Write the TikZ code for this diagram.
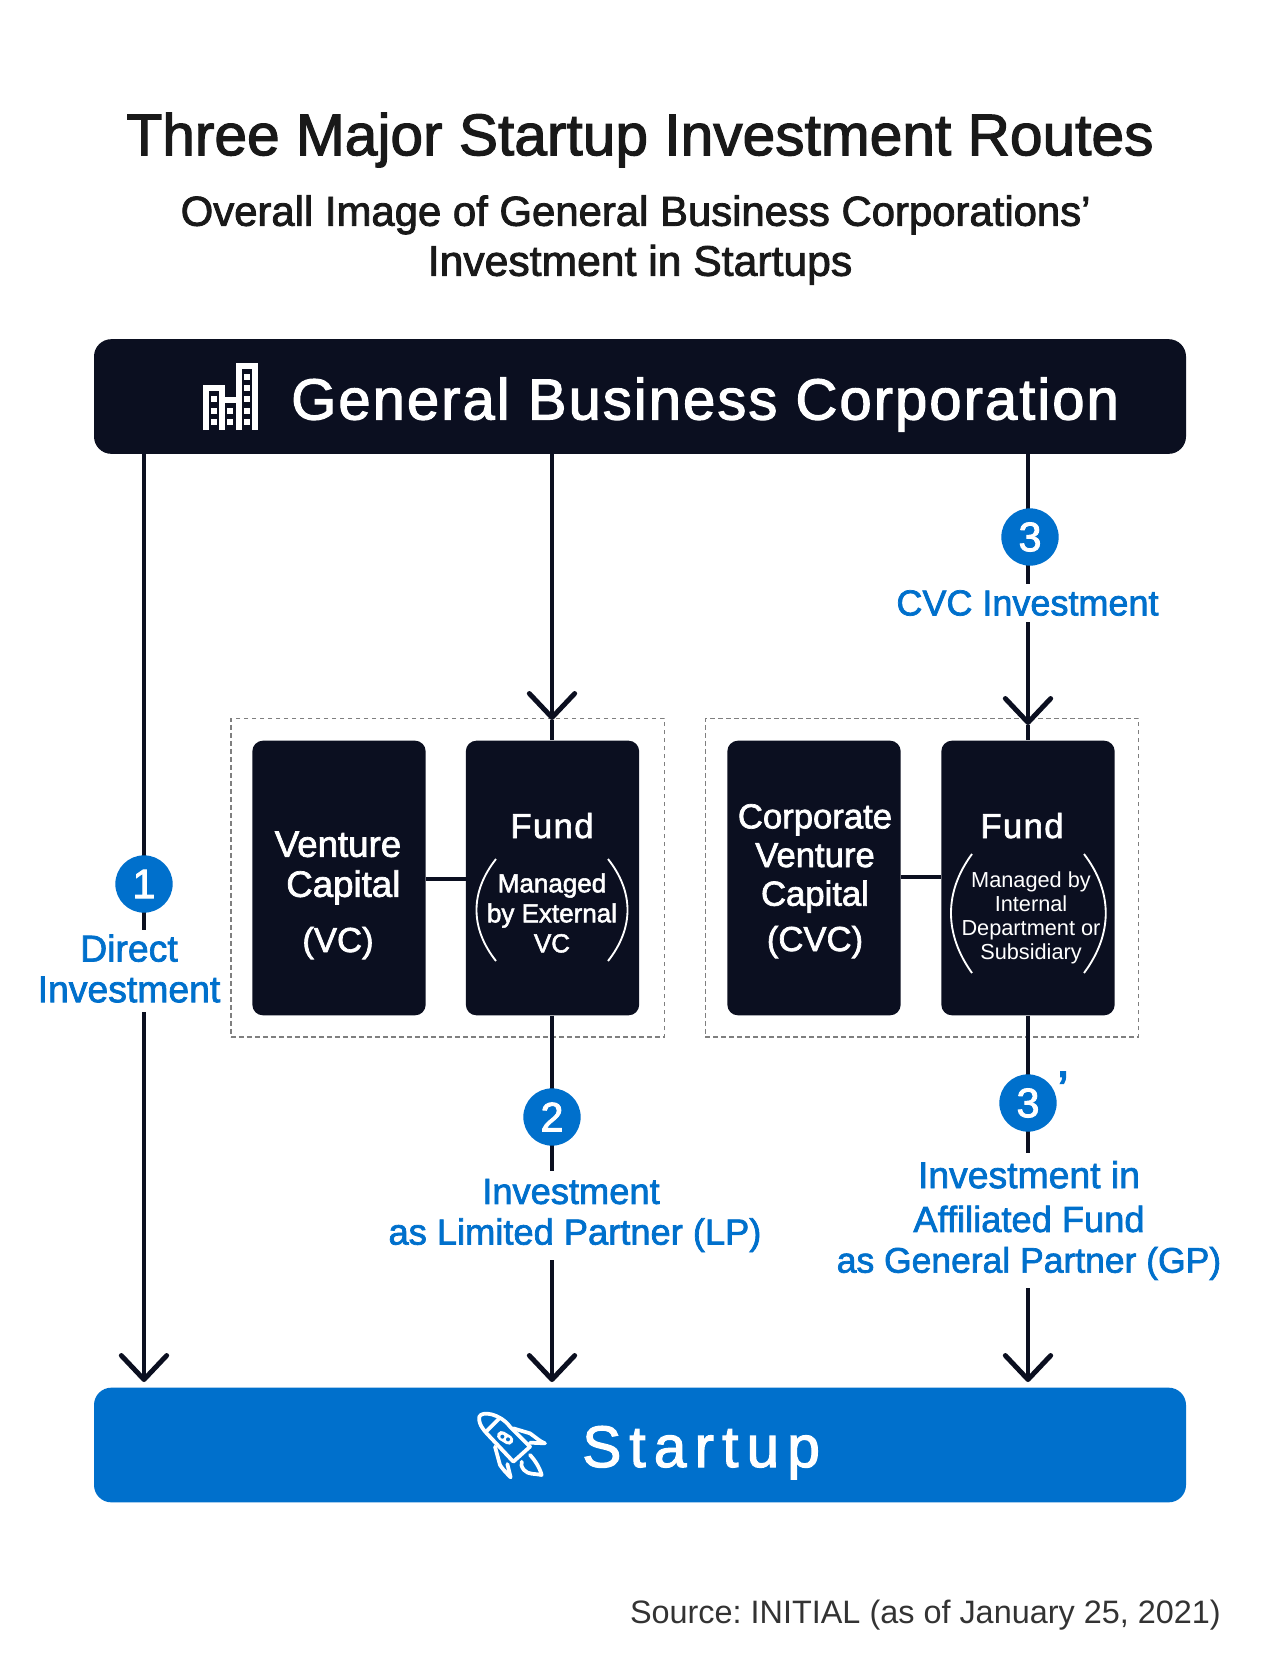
\documentclass[tikz,border=0pt]{standalone}
\usepackage{xcolor}
\usepackage{fontspec}
\usepackage{tikz}
\usetikzlibrary{arrows.meta,positioning}
\setmainfont{Liberation Sans}
\newfontfamily\medfont[FakeBold=2]{Liberation Sans}
\newfontfamily\barfont[FakeBold=2,LetterSpace=3.5]{Liberation Sans}
\newfontfamily\spacedfont[FakeBold=2,LetterSpace=13.8]{Liberation Sans}
\newfontfamily\fundfont[FakeBold=2,LetterSpace=4]{Liberation Sans}
\newcommand{\fsize}[2]{\fontsize{#1}{#2}\selectfont}
\definecolor{ink}{HTML}{0B0F20}
\definecolor{brand}{HTML}{0070CC}
\definecolor{dashgray}{HTML}{7F7F7F}

\begin{document}
\begin{tikzpicture}[
  x=0.75pt, y=-0.75pt,
  bar/.style={rounded corners=13pt, minimum width=819pt, minimum height=86pt, inner sep=0pt, text=white},
  fundbox/.style={fill=ink, rounded corners=8pt, minimum width=130pt, minimum height=206pt, inner sep=0pt},
  group/.style={draw=dashgray, line width=1pt, dash pattern=on 3.5pt off 2.5pt, minimum width=325pt, minimum height=239pt, inner sep=0pt},
  wire/.style={draw=ink, line width=3.7pt},
  arrow/.style={wire, -{Straight Barb[length=18pt,width=34pt,round]}},
  paren/.style={draw=white, line width=1.4pt},
  boxtext/.style={text=white, align=center, inner sep=0pt},
  tag/.style={text=brand, fill=white, align=center, inner xsep=0pt, font=\medfont\fsize{27.2}{30.5}},
  badge/.style={circle, fill=brand, text=white, minimum size=43pt, inner sep=0pt, font=\medfont\fsize{31}{31}},
  icon/.style={draw=white, line width=2.8pt, line cap=round, line join=round},
  tower/.style={draw=white, line width=4.2pt, line cap=butt, line join=miter}
]
  \useasboundingbox (0,0) rectangle (1280,1672);
  \fill[white] (0,0) rectangle (1280,1672);

  \node[text=black!90, font=\medfont\fsize{44}{48}] (title) at (640,140) {Three Major Startup Investment Routes};
  \node[text=black!90, font=\medfont\fsize{31.4}{37.5}, align=center] (subtitle) at (640,240) {\hspace*{-6.5pt}Overall Image of General Business Corporations’\\\fsize{32}{37.5}Investment in Startups};

  \node[bar, fill=ink] (corp) at (640,396.5) {};
  \node[bar, fill=brand] (startup) at (640,1445) {};
  \node[text=white, anchor=base west, inner sep=0pt, font=\barfont\fsize{43.5}{43.5}] (corptext) at (291,419.5) {General Business Corporation};
  \node[text=white, anchor=base west, inner sep=0pt, font=\spacedfont\fsize{44}{44}] (startuptext) at (582,1467) {Startup};

  \node[group] (vcgroup) at (447.5,877.5) {};
  \node[group] (cvcgroup) at (922,877.5) {};
  \node[fundbox] (vc) at (339,878) {};
  \node[fundbox] (vcfund) at (552.5,878) {};
  \node[fundbox] (cvc) at (814,878) {};
  \node[fundbox] (cvcfund) at (1028,878) {};

  \coordinate (tipone) at (144,1382);
  \coordinate (tiptwo) at (552,1382);
  \coordinate (tipthree) at (1028,1382);
  \coordinate (tipvc) at (552,720);
  \coordinate (tipcvc) at (1028,725);

  \draw[arrow] (tipone |- corp.south) -- (tipone);
  \draw[arrow] (tipvc |- corp.south) -- (tipvc);
  \draw[wire] (tipvc) -- (tipvc |- vcfund.north);
  \draw[arrow] (tipcvc |- corp.south) -- (tipcvc);
  \draw[wire] (tipcvc) -- (tipcvc |- cvcfund.north);
  \draw[arrow] (tiptwo |- vcfund.south) -- (tiptwo);
  \draw[arrow] (tipthree |- cvcfund.south) -- (tipthree);
  \draw[wire, line width=3pt] (vc.east |- 0,879) -- (vcfund.west |- 0,879);
  \draw[wire, line width=3pt] (cvc.east |- 0,877) -- (cvcfund.west |- 0,877);

  \node[boxtext, font=\medfont\fsize{27.5}{30}] (vclabel) at (338,868) {Venture\\\hspace{8pt}Capital};
  \node[boxtext, font=\medfont\fsize{26}{30}, anchor=base] (vcshort) at (338,952) {(VC)};
  \node[boxtext, font=\fundfont\fsize{26}{30}, anchor=base] (vcfundlabel) at (552,838) {Fund};
  \node[boxtext, font=\medfont\fsize{19.5}{22.5}] (vcnote) at (552,913) {Managed\\by External\\VC};
  \draw[paren] (496,859) .. controls (470,892) and (470,928) .. (496,961);
  \draw[paren] (608,859) .. controls (634,892) and (634,928) .. (608,961);

  \node[boxtext, font=\medfont\fsize{26}{29}] (cvclabel) at (815,858.5) {Corporate\\Venture\\Capital};
  \node[boxtext, font=\medfont\fsize{26}{30}, anchor=base] (cvcshort) at (815,951) {(CVC)};
  \node[boxtext, font=\fundfont\fsize{26}{30}, anchor=base] (cvcfundlabel) at (1022,838) {Fund};
  \node[boxtext, font=\fsize{16.3}{18}] (cvcnote) at (1031,917.5) {Managed by\\Internal\\Department or\\Subsidiary};
  \draw[paren] (972,854) .. controls (944,892) and (944,934) .. (972,973);
  \draw[paren] (1084,854) .. controls (1113,892) and (1113,934) .. (1084,973);

  \node[tag, minimum height=62pt, font=\medfont\fsize{28}{30.5}] (directtag) at (129,971) {Direct\\Investment\rule[-4pt]{0pt}{1pt}};
  \node[tag, minimum height=66.75pt] (lptag) at (575,1215.5) {\hspace*{-6pt}Investment\\as Limited Partner (LP)};
  \node[tag, minimum height=28.5pt, font=\medfont\fsize{27}{30.5}] (cvctag) at (1027.5,603) {CVC Investment};
  \node[tag, minimum height=101pt] (gptag) at (1029,1220.5) {\fsize{28}{31.2}Investment in\\[2.4pt]Affiliated Fund\\\fsize{26.6}{31.2}as General Partner (GP)};

  \node[badge] (one) at (144,884) {1};
  \node[badge] (two) at (552,1117) {2};
  \node[badge] (three) at (1030,537) {3};
  \node[badge] (threeprime) at (1028,1103) {3};
  \node[text=brand, inner sep=0pt, font=\medfont\fsize{40}{40}] (prime) at (1063,1090) {’};

  % building
  \draw[tower] (206,430) -- (206,388) -- (222,388) -- (222,430);
  \draw[tower] (222,400) -- (239,400);
  \draw[tower] (239,430) -- (239,366) -- (255,366) -- (255,430);
  \foreach \wy in {399,411,422} \fill[white] (211,\wy-3) rectangle ++(6,6);
  \foreach \wy in {411,422} \fill[white] (227,\wy-3) rectangle ++(6,6);
  \foreach \wy in {377,388,399,411,422} \fill[white] (244,\wy-3) rectangle ++(6,6);

  % rocket
  \begin{scope}[shift={(450,1390)}, x=0.25pt, y=-0.25pt]
    \draw[icon] (88,80) .. controls (95,62) and (150,70) .. (180,110) -- (240,170) -- (190,215) -- (110,130) .. controls (90,108) and (85,92) .. (88,80) -- cycle;
    \draw[icon] (148,85) -- (108,125);
    \draw[icon, line width=7pt] (155,137) -- (176,150);
    \fill[brand] (157,140) circle (6) (174,148) circle (6);
    \draw[icon] (190,115) -- (240,130) .. controls (255,140) and (270,155) .. (285,160) -- (240,158);
    \draw[icon] (135,170) -- (150,225) .. controls (160,240) and (170,250) .. (182,262) -- (172,222);
    \draw[icon] (240,195) .. controls (255,210) and (270,235) .. (275,255) .. controls (255,250) and (235,255) .. (222,240) .. controls (215,232) and (212,222) .. (215,215);
  \end{scope}

  \node[anchor=base east, inner sep=0pt, text=black!80, font=\frenchspacing\fsize{24.3}{24.5}] (source) at (1221,1623) {Source: INITIAL (as of January 25, 2021)};
\end{tikzpicture}
\end{document}
